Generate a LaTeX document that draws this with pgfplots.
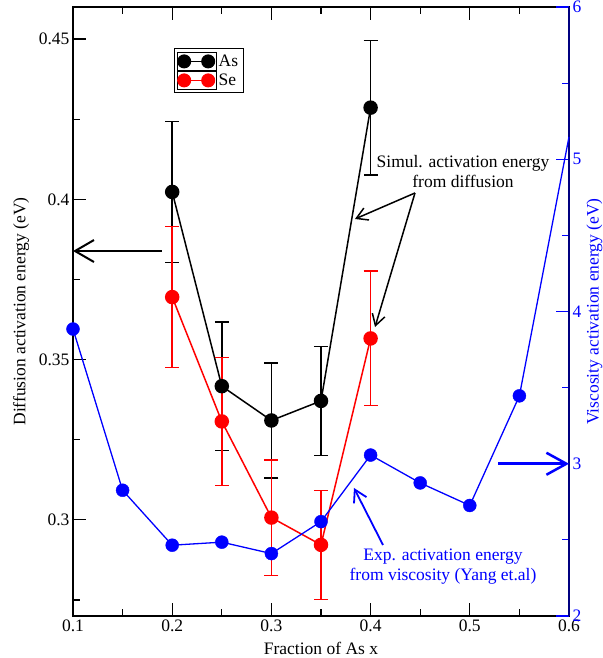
\documentclass[border=0pt]{standalone}
\usepackage{fontspec}
\setmainfont{Liberation Serif}
\usepackage{pgfplots}
\pgfplotsset{compat=1.18}
\usepackage{pgfplotstable}
\usetikzlibrary{arrows.meta}
\definecolor{navyax}{RGB}{0,0,128}

\pgfplotstableread{
x y e
0.20 0.4023 0.0220
0.25 0.3417 0.0200
0.30 0.3310 0.0180
0.35 0.3371 0.0170
0.40 0.4286 0.0210
}\Asdata
\pgfplotstableread{
x y e
0.20 0.3695 0.0220
0.25 0.3307 0.0200
0.30 0.3007 0.0180
0.35 0.2922 0.0170
0.40 0.3566 0.0210
}\Sedata
\pgfplotstableread{
x y
0.10 3.885
0.15 2.826
0.20 2.465
0.25 2.485
0.30 2.410
0.35 2.620
0.40 3.057
0.45 2.874
0.50 2.726
0.55 3.446
0.60 5.147
}\Visdata

\begin{document}
\begin{tikzpicture}[font=\fontsize{17.5bp}{20bp}\selectfont]
\useasboundingbox (-73bp,-42bp) rectangle (530bp,616bp);
\begin{axis}[
  at={(0,0)}, anchor=south west,
  scale only axis, width=496bp, height=609bp,
  clip=false,
  xmin=0.1, xmax=0.6, ymin=0.27, ymax=0.46,
  xtick={0.1,0.2,0.3,0.4,0.5,0.6},
  minor xtick={0.15,0.25,0.35,0.45,0.55},
  ytick={0.3,0.35,0.4,0.45},
  minor ytick={0.275,0.325,0.375,0.425},
  xtick pos=both, xticklabel pos=bottom, ytick pos=left,
  tick align=inside,
  major tick length=13bp, minor tick length=7bp,
  axis line style={line width=1.5bp},
  every tick/.style={black, line width=1.2bp},
  tick label style={font=\fontsize{17.5bp}{20bp}\selectfont},
  /pgf/number format/assume math mode=true,
  xticklabel={\pgfmathprintnumber{\tick}},
  yticklabel={\pgfmathprintnumber{\tick}},
  xlabel={Fraction of As x},
  ylabel={Diffusion activation energy (eV)},
  xlabel style={at={([yshift=-32bp]axis description cs:0.5,0)}, anchor=center},
  ylabel style={at={([xshift=-52bp]axis description cs:0,0.5)}, anchor=center},
  legend style={at={(rel axis cs:0.203,0.932)}, anchor=north west, draw=black, line width=1bp, inner sep=3bp, row sep=0bp, nodes={inner sep=2bp}, font=\fontsize{17.5bp}{20bp}\selectfont},
  legend cell align=left,
]
\addplot[black, line width=1.5bp, mark=*, mark size=6.5bp, forget plot,
  error bars/.cd, y dir=both, y explicit,
  error bar style={line width=1.5bp, black},
  error mark options={black, line width=1.5bp, mark size=7bp, rotate=90}]
  table[x=x, y=y, y error=e] {\Asdata};
\addplot[red, line width=1.5bp, mark=*, mark size=6.5bp, forget plot,
  error bars/.cd, y dir=both, y explicit,
  error bar style={line width=1.5bp, red},
  error mark options={red, line width=1.5bp, mark size=7bp, rotate=90}]
  table[x=x, y=y, y error=e] {\Sedata};
\addlegendimage{legend image code/.code={\path (-6.5bp,-9bp) rectangle (32bp,9bp); \draw[black, line width=1.5bp] (0bp,0bp) -- (24bp,0bp); \fill[black] (0bp,0bp) circle[radius=6.5bp]; \fill[black] (24bp,0bp) circle[radius=6.5bp];}}
\addlegendentry{As}
\addlegendimage{legend image code/.code={\path (-6.5bp,-9bp) rectangle (32bp,9bp); \draw[red, line width=1.5bp] (0bp,0bp) -- (24bp,0bp); \fill[red] (0bp,0bp) circle[radius=6.5bp]; \fill[red] (24bp,0bp) circle[radius=6.5bp];}}
\addlegendentry{Se}
% annotations
\draw[black, line width=2bp, -{Straight Barb[length=19bp,width=22bp,line width=2bp]}]
  (rel axis cs:0.1794,0.5993) -- (rel axis cs:0,0.5993);
\node[align=center, inner sep=0pt] at (rel axis cs:0.7863,0.7291) {Simul. activation energy\\from diffusion};
\draw[black, line width=1.5bp, -{Straight Barb[length=11bp,width=13bp,line width=1.5bp]}]
  (rel axis cs:0.6895,0.6946) -- (rel axis cs:0.5685,0.6519);
\draw[black, line width=1.5bp, -{Straight Barb[length=11bp,width=13bp,line width=1.5bp]}]
  (rel axis cs:0.6895,0.6946) -- (rel axis cs:0.6089,0.4745);
\end{axis}
\begin{axis}[
  at={(0,0)}, anchor=south west,
  scale only axis, width=496bp, height=609bp,
  clip=false,
  xmin=0.1, xmax=0.6, ymin=2, ymax=6,
  axis x line=none, axis y line*=right,
  ytick={2,3,4,5,6}, minor ytick={2.5,3.5,4.5,5.5},
  tick align=inside,
  major tick length=13bp, minor tick length=7bp,
  y axis line style={navyax, line width=1.5bp, -},
  every tick/.style={blue, line width=1.2bp},
  yticklabel style={blue, font=\fontsize{17.5bp}{20bp}\selectfont},
  /pgf/number format/assume math mode=true,
  yticklabel={\pgfmathprintnumber{\tick}},
  ylabel={Viscosity activation energy (eV)},
  ylabel style={blue, inner sep=0pt, at={([xshift=25.5bp]axis description cs:1,0.5)}, anchor=center},
]
\addplot[blue, line width=1.3bp] table[x=x, y=y] {\Visdata};
\addplot[blue, only marks, mark=*, mark size=6.5bp, restrict x to domain=0.05:0.56] table[x=x, y=y] {\Visdata};
\draw[blue, line width=2.5bp, -{Straight Barb[length=20bp,width=22bp,line width=2.5bp]}]
  (rel axis cs:0.8569,0.25) -- (rel axis cs:1,0.25);
\node[blue, align=center, inner sep=0pt] at (rel axis cs:0.746,0.0805) {Exp. activation energy\\from viscosity (Yang et.al)};
\draw[blue, line width=1.8bp, -{Straight Barb[length=12bp,width=14bp,line width=1.8bp]}]
  (rel axis cs:0.625,0.1166) -- (rel axis cs:0.5665,0.2102);
\end{axis}
\end{tikzpicture}
\end{document}
